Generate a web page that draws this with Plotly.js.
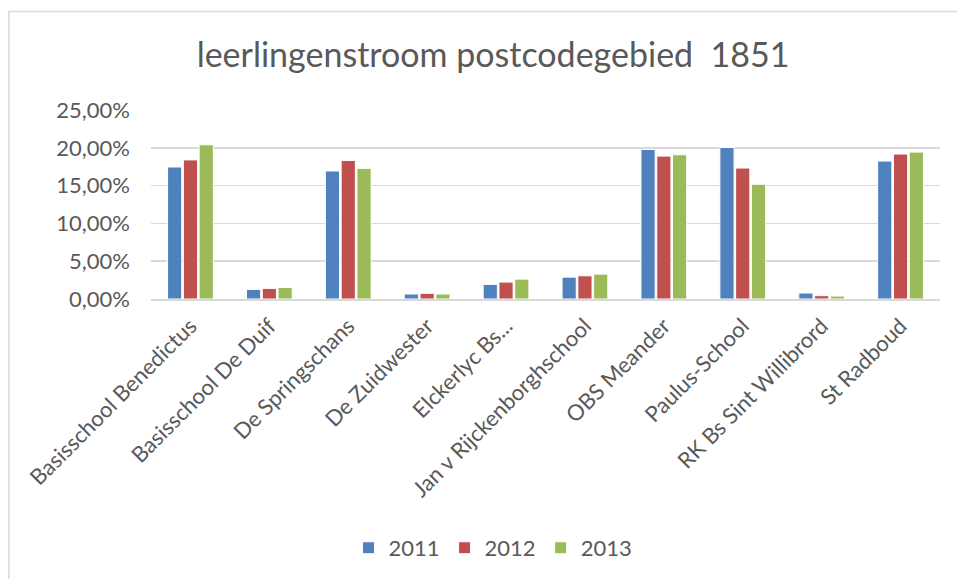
<!DOCTYPE html>
<html>
<head>
<meta charset="utf-8">
<script src="https://cdn.plot.ly/plotly-3.0.1.min.js"></script>
<style>html,body{margin:0;padding:0;background:#fff;}#chart{width:957px;height:579px;}</style>
</head>
<body>
<div id="chart"></div>
<script>
const categories = ["Basisschool Benedictus","Basisschool De Duif","De Springschans","De Zuidwester","Elckerlyc Bs...","Jan v Rijckenborghschool","OBS Meander","Paulus-School","RK Bs Sint Willibrord","St Radboud"];
const years = ["2011","2012","2013"];
const values2011 = [0.1746,0.0127,0.1693,0.0066,0.0193,0.0289,0.1978,0.2004,0.0079,0.1825];
const values2012 = [0.1840,0.0140,0.1833,0.0075,0.0224,0.0307,0.1890,0.1732,0.0044,0.1917];
const values2013 = [0.2040,0.0153,0.1728,0.0066,0.0263,0.0329,0.1908,0.1518,0.0039,0.1943];
const yTicks = [0,0.05,0.10,0.15,0.20,0.25];
const colors = ["#4F81BD","#C0504D","#9BBB59"];
const series = [values2011, values2012, values2013];

const FONT = "Lato, 'Open Sans', sans-serif";
const TXT = "#595959";

const traces = series.map((v,i)=>({
  type:"bar", name: years[i], x: categories, y: v,
  marker:{color: colors[i], line:{color:"#ffffff", width:1}},
  hoverinfo:"x+y+name"
}));

const layout = {
  width:957, height:579,
  margin:{l:151, r:17, t:110, b:279, pad:0},
  paper_bgcolor:"#ffffff", plot_bgcolor:"#ffffff",
  separators:",.",
  font:{family:FONT, color:TXT, size:21},
  title:{text:"leerlingenstroom postcodegebied  1851", font:{family:FONT, size:34, color:TXT},
         x:0.5152, xref:"container", xanchor:"center", y:0.905, yref:"container", yanchor:"middle"},
  barmode:"group", bargap:0.4, bargroupgap:0.1,
  xaxis:{tickangle:-45, showgrid:false, showline:true, linecolor:"#D9D9D9", linewidth:1.5,
         ticks:"", tickfont:{family:FONT, size:22, color:TXT}, ticklabelstandoff:4, automargin:false},
  yaxis:{range:[0,0.25], tickvals:yTicks, tickformat:".2%", showgrid:true, gridcolor:"#D9D9D9", gridwidth:1.5,
         zeroline:false, showline:false, ticks:"", tickfont:{family:FONT, size:22, color:TXT},
         ticklabelstandoff:20, automargin:false, fixedrange:true},
  showlegend:true,
  legend:{orientation:"h", x:0.4335, xanchor:"center", y:-1.305, yanchor:"middle",
          font:{family:FONT, size:22, color:TXT}, bgcolor:"rgba(0,0,0,0)"},
  shapes:[{type:"rect", xref:"paper", yref:"paper", x0:-0.18, x1:1.2, y0:-2.0, y1:1.5211,
           line:{color:"#D9D9D9", width:1.5}, fillcolor:"rgba(0,0,0,0)", layer:"below"}]
};

Plotly.newPlot("chart", traces, layout, {displayModeBar:false, staticPlot:true});
</script>
</body>
</html>
